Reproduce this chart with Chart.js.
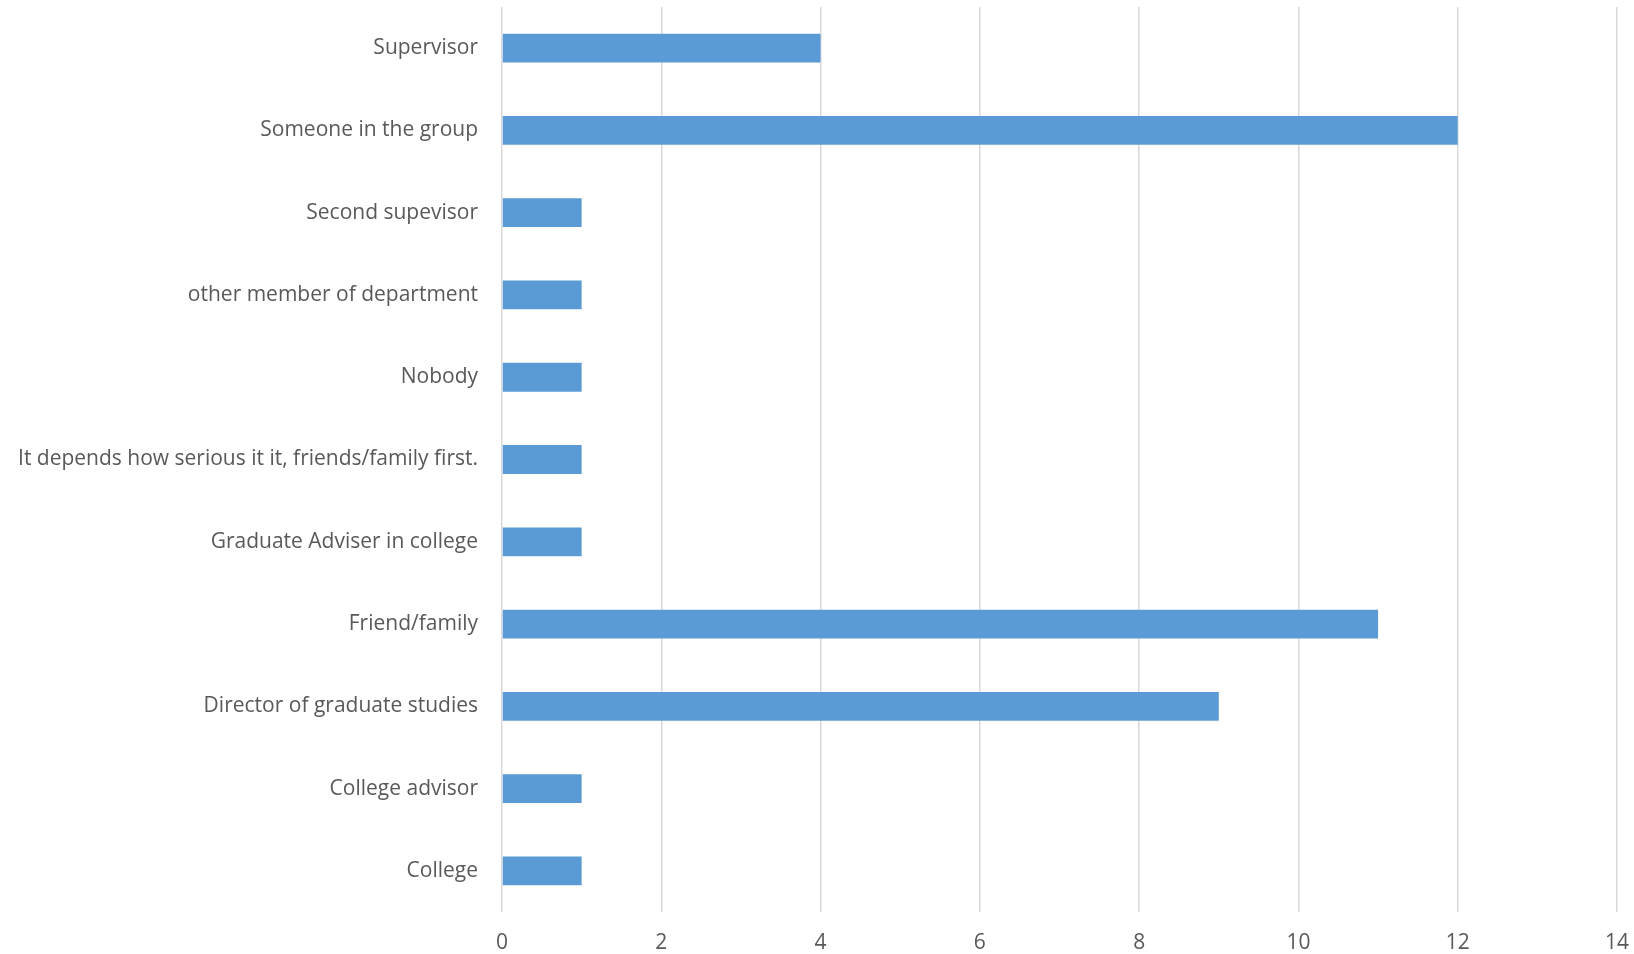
<!DOCTYPE html>
<html lang="en">

<head>
    <meta charset="UTF-8">
    <title>Who would you talk to</title>
    <script src="https://cdn.jsdelivr.net/npm/chart.js"></script>
    <style>
        html, body { margin: 0; padding: 0; background: #fff; }
        #wrap { width: 1634px; height: 954px; }
    </style>
</head>

<body>
    <div id="wrap">
        <canvas id="barChart" width="1634" height="954"></canvas>
    </div>

    <script>
        // categories from top to bottom
        const categories = [
            'Supervisor',
            'Someone in the group',
            'Second supevisor',
            'other member of department',
            'Nobody',
            'It depends how serious it it, friends/family first.',
            'Graduate Adviser in college',
            'Friend/family',
            'Director of graduate studies',
            'College advisor',
            'College'
        ];
        const counts = [4, 12, 1, 1, 1, 1, 1, 11, 9, 1, 1];
        const xTicks = [0, 2, 4, 6, 8, 10, 12, 14];

        const ctx = document.getElementById('barChart').getContext('2d');

        new Chart(ctx, {
            type: 'bar',
            data: {
                labels: categories,
                datasets: [{
                    data: counts,
                    backgroundColor: '#5B9BD5',
                    borderWidth: 0,
                    barPercentage: 0.35,
                    categoryPercentage: 1
                }]
            },
            options: {
                indexAxis: 'y',
                responsive: false,
                animation: false,
                layout: { padding: { top: 7, right: 17, left: 0, bottom: 0 } },
                plugins: {
                    legend: { display: false },
                    tooltip: { enabled: false }
                },
                scales: {
                    x: {
                        min: 0,
                        max: 14,
                        afterBuildTicks: (axis) => {
                            axis.ticks = xTicks.map(v => ({ value: v }));
                        },
                        grid: {
                            color: '#D9D9D9',
                            lineWidth: 1.5,
                            drawTicks: false
                        },
                        border: { display: false },
                        ticks: {
                            color: '#595959',
                            font: { family: 'Open Sans', size: 21 },
                            padding: 18
                        },
                        afterFit: (axis) => {
                            axis.height = 42;
                            axis.paddingLeft = 0;
                            axis.paddingRight = 0;
                        }
                    },
                    y: {
                        grid: { display: false, drawTicks: false },
                        border: { display: false },
                        ticks: {
                            color: '#595959',
                            font: { family: 'Open Sans', size: 21 },
                            padding: 24
                        },
                        afterFit: (axis) => {
                            axis.width = 502;
                            axis.paddingTop = 0;
                            axis.paddingBottom = 0;
                        }
                    }
                }
            }
        });
    </script>
</body>

</html>
